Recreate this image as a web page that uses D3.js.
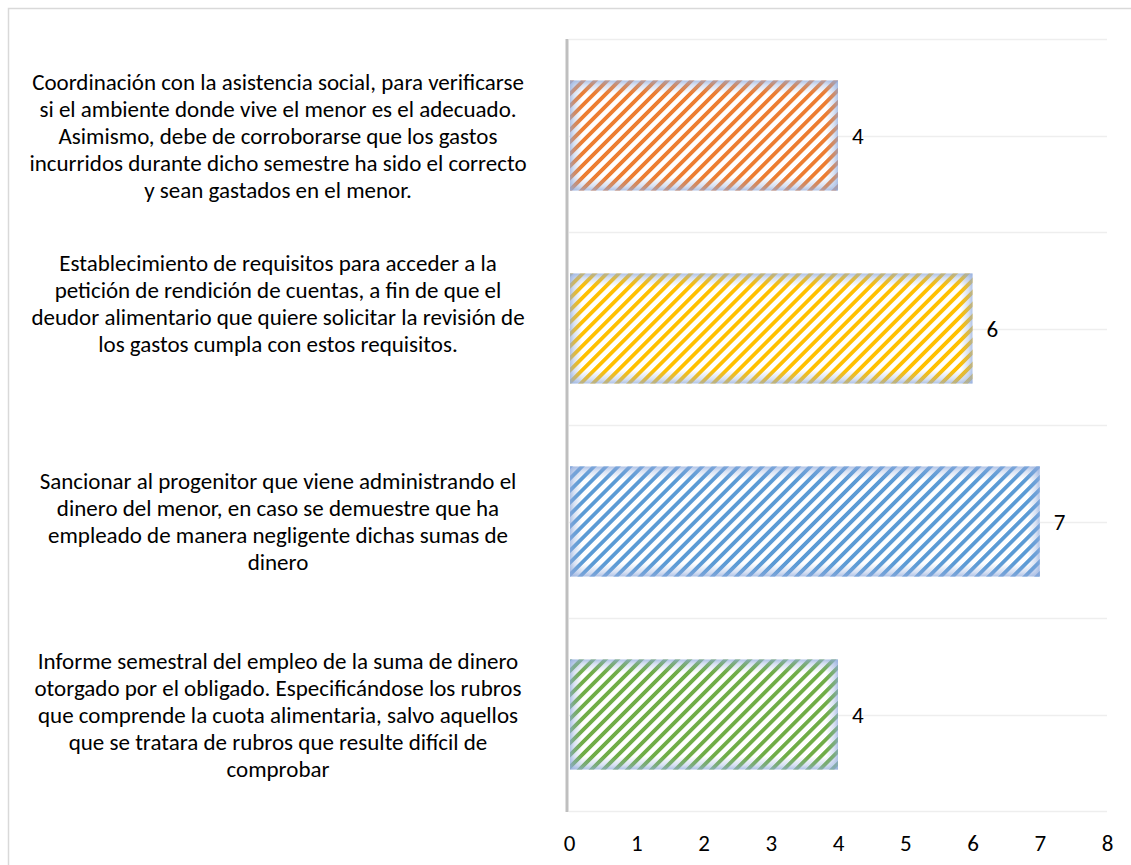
<!DOCTYPE html>
<html>
<head>
<meta charset="utf-8">
<script src="https://cdn.jsdelivr.net/npm/d3@7"></script>
<style>
  html, body { margin: 0; padding: 0; background: #ffffff; }
  svg text { font-family: Carlito, Calibri, Lato, "Open Sans", sans-serif; fill: #000; }
</style>
</head>
<body>
<svg id="chart" width="1131" height="865"></svg>
<script>
// Categories, top to bottom, with their label lines as wrapped in the chart
const categories = [
  "Coordinación",
  "Requisitos",
  "Sancionar",
  "Informe"
];
const categoryLines = [
  ["Coordinación con la asistencia social, para verificarse",
   "si el ambiente donde vive el menor es el adecuado.",
   "Asimismo, debe de corroborarse que los gastos",
   "incurridos durante dicho semestre ha sido el correcto",
   "y sean gastados en el menor."],
  ["Establecimiento de requisitos para acceder a la",
   "petición de rendición de cuentas, a fin de que el",
   "deudor alimentario que quiere solicitar la revisión de",
   "los gastos cumpla con estos requisitos."],
  ["Sancionar al progenitor que viene administrando el",
   "dinero del menor, en caso se demuestre que ha",
   "empleado de manera negligente dichas sumas de",
   "dinero"],
  ["Informe semestral del empleo de la suma de dinero",
   "otorgado por el obligado. Especificándose los rubros",
   "que comprende la cuota alimentaria, salvo aquellos",
   "que se tratara de rubros que resulte difícil de",
   "comprobar"]
];
const values = [4, 6, 7, 4];
const barColors = ["#ED7D31", "#FFC000", "#5B9BD5", "#70AD47"];
const xTicks = [0, 1, 2, 3, 4, 5, 6, 7, 8];

const svg = d3.select("#chart");
const W = 1131, H = 865;
const fontSize = 23;

// Chart frame
svg.append("rect")
  .attr("x", 8.5).attr("y", 8.5)
  .attr("width", W + 10).attr("height", H + 10)
  .attr("fill", "#fff").attr("stroke", "#d9d9d9").attr("stroke-width", 1.5);

const plot = { left: 569, right: 1107, top: 39, bottom: 811 };

const x = d3.scaleLinear().domain([0, 8]).range([plot.left, plot.right]);
const y = d3.scaleBand().domain(categories)
  .range([plot.top, plot.bottom])
  .paddingInner(0.43).paddingOuter(0.215);

const defs = svg.append("defs");

// Diagonal stripe pattern for each bar colour
barColors.forEach((c, i) => {
  const p = defs.append("pattern")
    .attr("id", "stripe" + i)
    .attr("patternUnits", "userSpaceOnUse")
    .attr("width", 8.5).attr("height", 8.5)
    .attr("patternTransform", "rotate(45)");
  p.append("rect").attr("width", 8.5).attr("height", 8.5).attr("fill", "#ffffff");
  p.append("rect").attr("x", 0).attr("width", 3.8).attr("height", 8.5).attr("fill", c);
});

// Soft blue edge shading (vertical)
const gv = defs.append("linearGradient").attr("id", "edgeV")
  .attr("x1", 0).attr("y1", 0).attr("x2", 0).attr("y2", 1);
[[0, 0.7], [0.04, 0.35], [0.12, 0], [0.88, 0], [0.96, 0.35], [1, 0.7]].forEach(([o, a]) =>
  gv.append("stop").attr("offset", o).attr("stop-color", "#8FAADC").attr("stop-opacity", a));

// Horizontal edge shading, one gradient per bar so edge width stays constant
values.forEach((v, i) => {
  const w = x(v) - x(0);
  const e = 12 / w;
  const gh = defs.append("linearGradient").attr("id", "edgeH" + i)
    .attr("x1", 0).attr("y1", 0).attr("x2", 1).attr("y2", 0);
  [[0, 0.7], [e / 3, 0.35], [e, 0], [1 - e, 0], [1 - e / 3, 0.35], [1, 0.7]].forEach(([o, a]) =>
    gh.append("stop").attr("offset", o).attr("stop-color", "#8FAADC").attr("stop-opacity", a));
});

// Horizontal gridlines at category boundaries and centres
const gridYs = categories
  .flatMap((c, i) => [plot.top + i * y.step(), plot.top + (i + 0.5) * y.step()])
  .concat([plot.bottom]);
svg.append("g").selectAll("line")
  .data(gridYs)
  .join("line")
  .attr("x1", plot.left).attr("x2", plot.right)
  .attr("y1", d => Math.round(d) + 0.5).attr("y2", d => Math.round(d) + 0.5)
  .attr("stroke", "#eeeeee").attr("stroke-width", 1.5);

// Bars: striped fill plus edge shading
const bars = svg.append("g").selectAll("g")
  .data(values)
  .join("g");
const barRect = sel => sel
  .attr("x", x(0) + 1)
  .attr("y", (d, i) => y(categories[i]))
  .attr("width", d => x(d) - x(0) - 1)
  .attr("height", y.bandwidth());
bars.append("rect").call(barRect).attr("fill", (d, i) => `url(#stripe${i})`);
bars.append("rect").call(barRect).attr("fill", "url(#edgeV)");
bars.append("rect").call(barRect).attr("fill", (d, i) => `url(#edgeH${i})`);

// Value labels
svg.append("g").selectAll("text")
  .data(values)
  .join("text")
  .attr("x", d => x(d) + 14)
  .attr("y", (d, i) => y(categories[i]) + y.bandwidth() / 2)
  .attr("dy", "0.35em")
  .attr("font-size", fontSize)
  .text(d => d);

// Vertical category axis line
svg.append("line")
  .attr("x1", plot.left - 2).attr("x2", plot.left - 2)
  .attr("y1", plot.top).attr("y2", plot.bottom + 1)
  .attr("stroke", "#bfbfbf").attr("stroke-width", 3);

// Value axis tick labels
const xAxis = d3.axisBottom(x).tickValues(xTicks).tickSize(0).tickPadding(0).tickFormat(d3.format("d"));
const xg = svg.append("g").attr("transform", `translate(0,${plot.bottom + 24})`).call(xAxis);
xg.select(".domain").remove();
xg.selectAll("text").attr("font-size", fontSize).attr("font-family", null).attr("fill", "#000");

// Category labels; the second one sits a little higher in its band
const lineH = 27;
const labelCx = 278;
const labelShift = [0, -25, 0, 0];
const cat = svg.append("g");
categoryLines.forEach((lines, i) => {
  const cy = y(categories[i]) + y.bandwidth() / 2 + labelShift[i];
  const startY = cy - (lines.length - 1) * lineH / 2;
  const t = cat.append("text")
    .attr("text-anchor", "middle")
    .attr("font-size", fontSize);
  lines.forEach((ln, j) => {
    t.append("tspan")
      .attr("x", labelCx)
      .attr("y", startY + j * lineH)
      .attr("dy", "0.35em")
      .text(ln);
  });
});
</script>
</body>
</html>
